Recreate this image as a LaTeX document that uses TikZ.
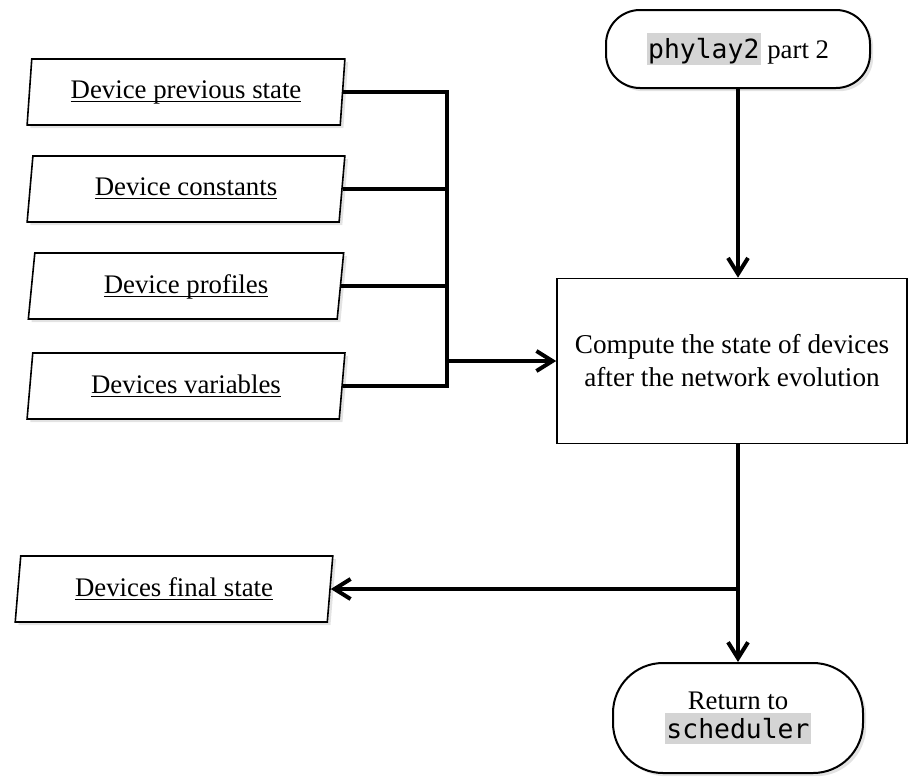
\documentclass[tikz,border=0pt]{standalone}
\usepackage{fontspec}
\setmainfont{Liberation Serif}
\setmonofont{DejaVu Sans Mono}
\usepackage{xcolor}
\usepackage{tikz}
\usetikzlibrary{shapes.geometric, arrows.meta, positioning, calc, shadows}
\definecolor{codegray}{RGB}{212,212,212}
\newcommand{\code}[1]{{\setlength{\fboxsep}{0.6pt}\colorbox{codegray}{\rule[-2.6pt]{0pt}{14.6pt}\fontsize{13.2}{15}\selectfont\ttfamily #1}}}
\tikzstyle{softshadow} = [drop shadow={opacity=0.22, shadow xshift=1.6pt, shadow yshift=-1.6pt}]
\tikzstyle{data} = [trapezium, trapezium left angle=84, trapezium right angle=96, trapezium stretches=true, minimum width=159pt, minimum height=33pt, text centered, draw=black, line width=0.8pt, fill=white, softshadow, font=\fontsize{13.4}{16}\selectfont]
\tikzstyle{process} = [rectangle, minimum width=175pt, minimum height=82.5pt, align=center, draw=black, line width=0.8pt, fill=white, font=\fontsize{13.6}{16.5}\selectfont]
\tikzstyle{terminal} = [rectangle, align=center, draw=black, line width=1pt, fill=white, softshadow, font=\fontsize{13.4}{14.5}\selectfont]
\tikzstyle{link} = [line width=2pt]
\tikzstyle{arrow} = [line width=2pt, -{Straight Barb[length=8pt,width=10pt,line width=2pt]}]

\begin{document}
\begin{tikzpicture}[node distance=48.5pt]
\useasboundingbox (0pt,0pt) rectangle (454.5pt,-388pt);

% ===== INPUT DATA (LEFT) =====
\node (prev_state) [data] at (93pt,-46pt) {\underbar{Device previous state}};
\node (dev_const) [data, below of=prev_state] {\underbar{Device constants}};
\node (dev_prof) [data, below of=dev_const] {\underbar{Device profiles}};
\node (dev_vars) [data, below of=dev_prof, yshift=-1.5pt] {\underbar{Devices variables}};

% ===== OUTPUT DATA =====
\node (final_state) [data, below of=dev_vars, yshift=-53pt, xshift=-6pt] {\underbar{Devices final state}};

% ===== MAIN FLOW (RIGHT) =====
\node (phylay_start) [terminal, minimum width=132pt, minimum height=39pt, rounded corners=17pt] at (369pt,-24.5pt) {\code{phylay2} part 2};
\node (compute) [process] at (366pt,-180.5pt) {Compute the state of devices\\after the network evolution};
\node (ret_sched) [terminal, minimum width=125pt, minimum height=55pt, rounded corners=25pt] at (369pt,-359pt) {Return to\\\code{scheduler}};

\coordinate (join) at (223.5pt,-180.5pt);
\coordinate (split) at (ret_sched |- final_state.east);

% ===== ARROWS =====
% inputs gathered on one bar
\draw [link] (prev_state.east) -| (join);
\draw [link] (dev_const.east) -- (dev_const.east -| join);
\draw [link] (dev_prof.east) -- (dev_prof.east -| join);
\draw [link] (dev_vars.east) -| (join);
\draw [arrow] (join) -- (compute.west);

% main flow
\draw [arrow] (phylay_start.south) -- (phylay_start.south |- compute.north);
\draw [arrow] (compute.south -| ret_sched.north) -- (ret_sched.north);
\draw [arrow] (split) -- (final_state.east);

\end{tikzpicture}
\end{document}
